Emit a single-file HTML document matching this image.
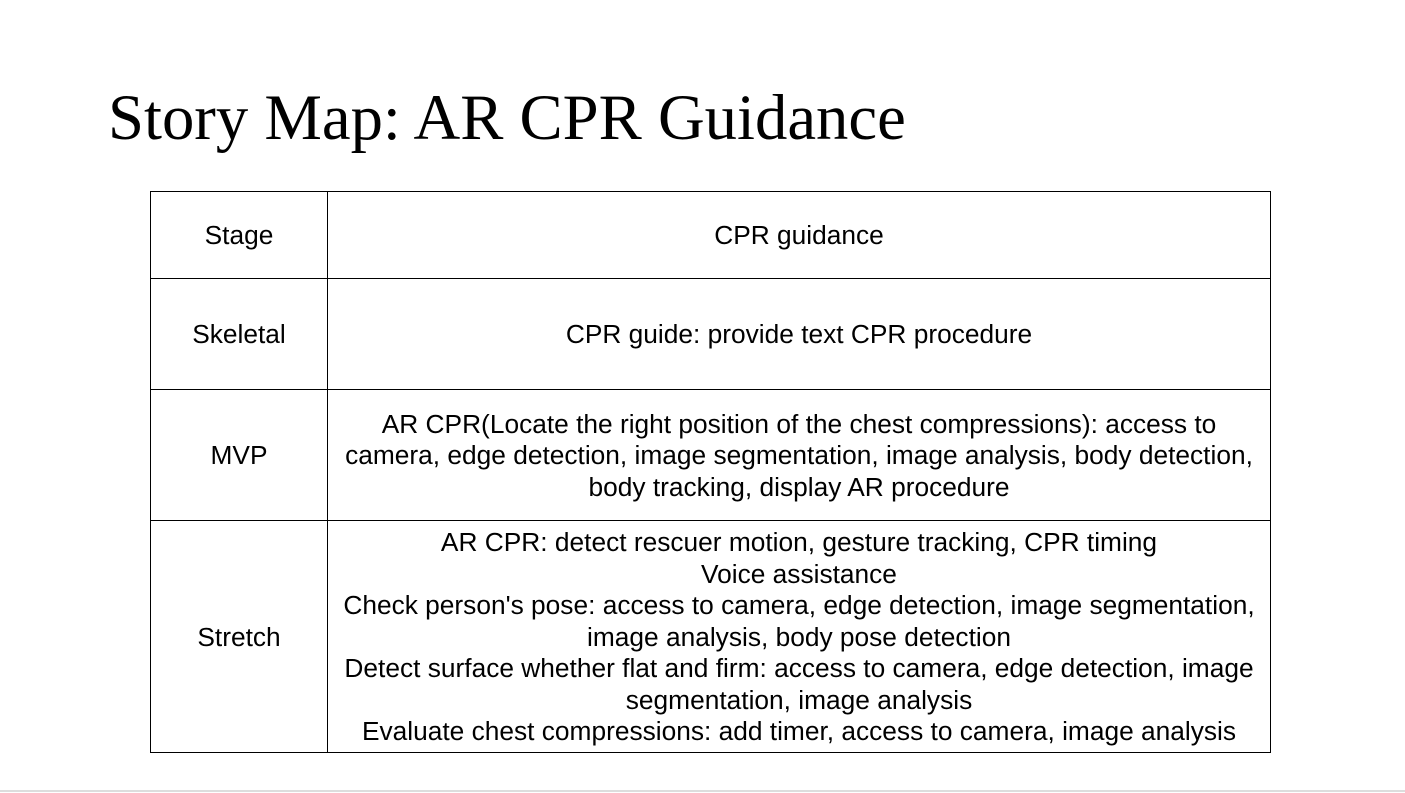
<!DOCTYPE html>
<html><head><meta charset="utf-8"><style>
body{margin:0;width:1405px;height:793px;background:#fff;position:relative;overflow:hidden;font-family:"Liberation Sans",Arial,sans-serif;color:#000}
#title{position:absolute;left:108px;top:77px;font-family:"Liberation Serif",serif;font-size:64.7px;line-height:80px;white-space:nowrap}
.c{position:absolute;display:flex;align-items:center;justify-content:center;text-align:center;font-size:26.3px;line-height:31.6px;box-sizing:border-box}
.h{position:absolute;background:#000;height:1px}
.v{position:absolute;background:#000;width:1px}
#edge{position:absolute;left:0;top:790px;width:1405px;height:2px;background:#ddd}
</style></head><body>
<div id="title">Story Map: AR CPR Guidance</div>
<div>
<div class="h" style="left:150px;top:191px;width:1121px"></div>
<div class="h" style="left:150px;top:278px;width:1121px"></div>
<div class="h" style="left:150px;top:389px;width:1121px"></div>
<div class="h" style="left:150px;top:520px;width:1121px"></div>
<div class="h" style="left:150px;top:752px;width:1121px"></div>
<div class="v" style="left:150px;top:191px;height:562px"></div>
<div class="v" style="left:327px;top:191px;height:562px"></div>
<div class="v" style="left:1270px;top:191px;height:562px"></div>
<div class="c" style="left:151px;top:193px;width:176px;height:86px">Stage</div>
<div class="c" style="left:328px;top:193px;width:942px;height:86px">CPR guidance</div>
<div class="c" style="left:151px;top:280px;width:176px;height:110px">Skeletal</div>
<div class="c" style="left:328px;top:280px;width:942px;height:110px">CPR guide: provide text CPR procedure</div>
<div class="c" style="left:151px;top:391px;width:176px;height:130px">MVP</div>
<div class="c" style="left:328px;top:391px;width:942px;height:130px;padding:0 8px">AR CPR(Locate the right position of the chest compressions): access to camera, edge detection, image segmentation, image analysis, body detection, body tracking, display AR procedure</div>
<div class="c" style="left:151px;top:522px;width:176px;height:231px">Stretch</div>
<div class="c" style="left:328px;top:522px;width:942px;height:231px;padding:0 8px">AR CPR: detect rescuer motion, gesture tracking, CPR timing<br>Voice assistance<br>Check person's pose: access to camera, edge detection, image segmentation, image analysis, body pose detection<br>Detect surface whether flat and firm: access to camera, edge detection, image segmentation, image analysis<br>Evaluate chest compressions: add timer, access to camera, image analysis</div>
</div>
<div id="edge"></div>
</body></html>
